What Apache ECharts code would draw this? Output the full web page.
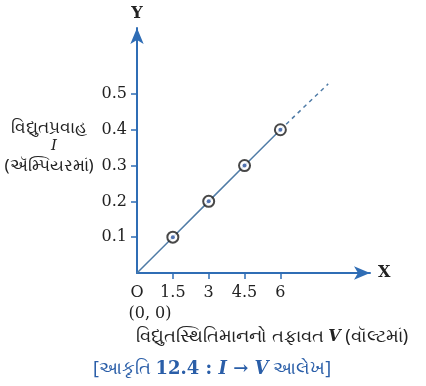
<!DOCTYPE html>
<html>
<head>
<meta charset="utf-8">
<script src="https://cdn.jsdelivr.net/npm/echarts@6/dist/echarts.min.js"></script>
<style>html,body{margin:0;padding:0;background:#fff;}#c{width:426px;height:386px;}</style>
</head>
<body>
<div id="c"></div>
<script>
const voltage = [0, 1.5, 3, 4.5, 6];
const current = [0, 0.1, 0.2, 0.3, 0.4];
const extVoltage = [6, 8];
const extCurrent = [0.4, 0.528];
const xTicks = [0, 1.5, 3, 4.5, 6];
const yTicks = [0.1, 0.2, 0.3, 0.4, 0.5];
const xName = 'X';
const yName = 'Y';
const originLabel = 'O';
const originCoord = '(0, 0)';
const yDescLines = ['વિદ્યુતપ્રવાહ', 'I', '(ઍમ્પિયરમાં)'];
const xDescParts = ['વિદ્યુતસ્થિતિમાનનો તફાવત ', 'V', ' (વૉલ્ટમાં)'];
const captionParts = ['[આકૃતિ ', '12.4 : ', 'I → V', ' આલેખ]'];

const axisBlue = '#2f6db5';
const lineBlue = '#4f7ba6';
const serif = '"DejaVu Serif", serif';
const guj = '"Noto Sans", sans-serif';

const chart = echarts.init(document.getElementById('c'));
const pts = voltage.map((v, i) => [v, current[i]]);
const markerPts = pts.slice(1);
const extPts = extVoltage.map((v, i) => [v, extCurrent[i]]);

chart.setOption({
  animation: false,
  grid: { left: 137, top: 28, width: 233, height: 245 },
  xAxis: {
    type: 'value', min: 0, max: 9.75,
    name: xName, nameLocation: 'end', nameGap: 8,
    nameTextStyle: { fontFamily: serif, fontSize: 16, fontWeight: 'bold', color: '#222', verticalAlign: 'middle' },
    axisLine: { show: true, lineStyle: { color: axisBlue, width: 2 }, symbol: ['none', 'arrow'], symbolSize: [10, 16] },
    axisTick: { show: true, length: 6, lineStyle: { color: axisBlue, width: 1.5 }, customValues: xTicks.slice(1) },
    axisLabel: { customValues: xTicks, fontFamily: serif, fontSize: 16, color: '#222', margin: 12,
      formatter: v => v === 0 ? originLabel : String(v) },
    splitLine: { show: false }
  },
  yAxis: {
    type: 'value', min: 0, max: 0.684,
    name: yName, nameLocation: 'end', nameGap: 6,
    nameTextStyle: { fontFamily: serif, fontSize: 16, fontWeight: 'bold', color: '#222', align: 'center' },
    axisLine: { show: true, lineStyle: { color: axisBlue, width: 2 }, symbol: ['none', 'arrow'], symbolSize: [10, 16] },
    axisTick: { show: true, length: 6, lineStyle: { color: axisBlue, width: 1.5 }, customValues: yTicks },
    axisLabel: { customValues: yTicks, fontFamily: serif, fontSize: 16, color: '#222', margin: 10,
      formatter: v => v.toFixed(1) },
    splitLine: { show: false }
  },
  graphic: [
    { type: 'text', x: 150, y: 314, style: { text: originCoord, font: '16px ' + serif, fill: '#222', align: 'center', verticalAlign: 'middle' } },
    { type: 'text', x: 49, y: 128, style: { text: yDescLines[0], font: '17px ' + guj, fill: '#222', align: 'center', verticalAlign: 'middle' } },
    { type: 'text', x: 54, y: 146, style: { text: yDescLines[1], font: 'italic 15px ' + serif, fill: '#222', align: 'center', verticalAlign: 'middle' } },
    { type: 'text', x: 49, y: 166, style: { text: yDescLines[2], font: '17px ' + guj, fill: '#222', align: 'center', verticalAlign: 'middle' } },
    { type: 'text', x: 272, y: 337, style: {
        text: '{a|' + xDescParts[0] + '}{b|' + xDescParts[1] + '}{a|' + xDescParts[2] + '}',
        align: 'center', verticalAlign: 'middle',
        rich: { a: { font: '18px ' + guj, fill: '#222' }, b: { font: 'italic bold 16px ' + serif, fill: '#222' } } } },
    { type: 'text', x: 212, y: 369, style: {
        text: '{a|' + captionParts[0] + '}{b|' + captionParts[1] + '}{c|' + captionParts[2] + '}{a|' + captionParts[3] + '}',
        align: 'center', verticalAlign: 'middle',
        rich: { a: { font: '18px ' + guj, fill: '#2a5ea8' }, b: { font: 'bold 18px ' + serif, fill: '#2a5ea8' }, c: { font: 'italic bold 18px ' + serif, fill: '#2a5ea8' } } } }
  ],
  series: [
    { type: 'line', data: pts, showSymbol: false, lineStyle: { color: lineBlue, width: 1.5 }, z: 2 },
    { type: 'line', data: extPts, showSymbol: false, lineStyle: { color: lineBlue, width: 1.5, type: [4, 4] }, z: 2 },
    { type: 'scatter', data: markerPts, symbol: 'circle', symbolSize: 11,
      itemStyle: { color: '#fff', borderColor: '#1a1a1a', borderWidth: 2 }, z: 3 },
    { type: 'scatter', data: markerPts, symbol: 'circle', symbolSize: 4,
      itemStyle: { color: '#2d55a0' }, z: 4 }
  ]
});
</script>
</body>
</html>
